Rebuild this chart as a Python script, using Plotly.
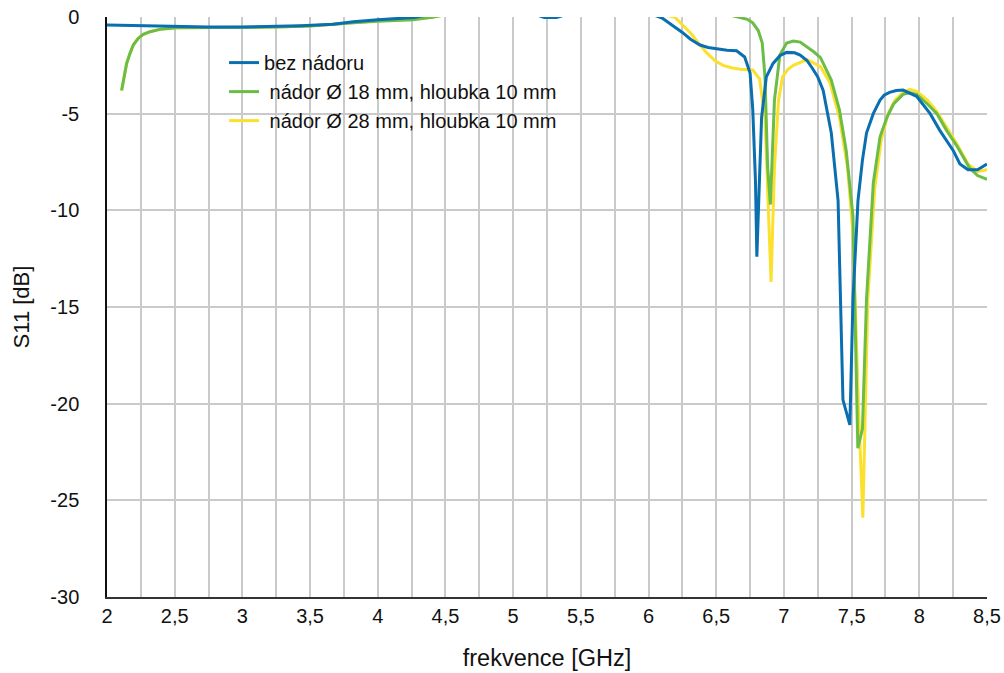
import plotly.graph_objects as go

# ---- data ----
freq_bez = [2.0, 2.25, 2.5, 2.75, 3.0, 3.25, 3.43, 3.67, 3.82, 4.0, 4.15, 4.27, 4.5, 4.8, 5.1, 5.18, 5.21,
            5.23, 5.32, 5.34, 5.38, 5.5, 5.8, 6.0, 6.1, 6.18, 6.25, 6.31, 6.38, 6.44, 6.5, 6.58, 6.65,
            6.71, 6.75, 6.77, 6.79, 6.80, 6.835, 6.87, 6.92, 6.97, 7.02, 7.08, 7.12, 7.17, 7.21, 7.25,
            7.29, 7.35, 7.40, 7.436, 7.487, 7.51, 7.547, 7.58, 7.61, 7.66, 7.71, 7.74, 7.78, 7.83,
            7.88, 7.98, 8.08, 8.15, 8.25, 8.30, 8.36, 8.43, 8.5]
s11_bez = [-0.42, -0.46, -0.5, -0.52, -0.52, -0.5, -0.45, -0.38, -0.25, -0.14, -0.07, -0.02, 0.3, 0.4, 0.3, 0.1, 0.0,
           -0.03, -0.03, 0.0, 0.1, 0.3, 0.4, 0.2, -0.05, -0.45, -0.8, -1.15, -1.45, -1.58, -1.65, -1.72, -1.75,
           -2.07, -2.9, -4.8, -8.5, -12.4, -5.2, -3.1, -2.4, -2.0, -1.83, -1.85, -1.97, -2.25, -2.65, -3.1,
           -3.8, -6.0, -9.5, -19.8, -21.1, -14.6, -9.5, -7.4, -6.0, -5.0, -4.3, -4.05, -3.9, -3.8,
           -3.78, -4.1, -5.0, -5.85, -6.9, -7.6, -7.9, -7.9, -7.6]

freq_18 = [2.108, 2.126, 2.145, 2.17, 2.194, 2.231, 2.268, 2.318, 2.39, 2.515, 2.75, 3.0, 3.25, 3.5, 3.67,
           3.82, 4.0, 4.26, 4.40, 4.7, 5.5,
           6.3, 6.6, 6.69, 6.73, 6.77, 6.81, 6.84, 6.86, 6.88, 6.90, 6.93, 6.97, 7.02, 7.07, 7.12, 7.17,
           7.22, 7.27, 7.35, 7.41, 7.46, 7.51, 7.546, 7.58, 7.61, 7.66, 7.71, 7.76, 7.81, 7.88, 7.93, 7.98,
           8.06, 8.13, 8.20, 8.28, 8.37, 8.43, 8.5]
s11_18 = [-3.8, -3.09, -2.4, -1.88, -1.45, -1.1, -0.9, -0.76, -0.64, -0.56, -0.55, -0.54, -0.52, -0.47, -0.4,
          -0.3, -0.22, -0.14, -0.02, 0.4, 0.6,
          0.4, 0.1, -0.03, -0.12, -0.3, -0.7, -1.35, -3.1, -7.8, -9.7, -4.3, -1.97, -1.35, -1.24, -1.3, -1.55,
          -1.8, -2.1, -3.26, -4.8, -6.9, -10.3, -22.3, -21.3, -14.6, -8.6, -6.2, -5.2, -4.5, -4.0, -3.92, -4.0,
          -4.5, -5.0, -5.85, -6.7, -7.8, -8.2, -8.4]

freq_28 = [2.108, 2.126, 2.145, 2.17, 2.194, 2.231, 2.268, 2.318, 2.39, 2.515, 2.75, 3.0, 3.25, 3.5, 3.67,
           3.82, 4.0, 4.26, 4.40, 4.7, 5.5,
           6.0, 6.195, 6.25, 6.31, 6.37, 6.43, 6.49, 6.55, 6.62, 6.68, 6.77, 6.82, 6.86, 6.88, 6.905, 6.93,
           6.96, 6.99, 7.03, 7.07, 7.17, 7.27, 7.34, 7.41, 7.47, 7.51, 7.55, 7.583, 7.62, 7.67, 7.72, 7.77,
           7.82, 7.88, 7.93, 7.98, 8.06, 8.13, 8.20, 8.28, 8.36, 8.43, 8.5]
s11_28 = [-3.8, -3.09, -2.4, -1.88, -1.45, -1.1, -0.9, -0.76, -0.64, -0.56, -0.55, -0.54, -0.52, -0.46, -0.38,
          -0.28, -0.2, -0.12, -0.02, 0.4, 0.6,
          0.3, -0.02, -0.4, -0.83, -1.35, -1.86, -2.25, -2.5, -2.64, -2.7, -2.74, -3.2, -5.2, -9.5, -13.7, -7.8,
          -4.3, -3.1, -2.7, -2.5, -2.2, -2.57, -3.4, -5.2, -7.8, -11.2, -20.0, -25.9, -14.6, -8.9, -6.3, -5.0,
          -4.3, -3.9, -3.74, -3.85, -4.3, -4.9, -5.7, -6.6, -7.6, -8.0, -7.9]

series_names = ["bez nádoru", " nádor Ø 18 mm, hloubka 10 mm", " nádor Ø 28 mm, hloubka 10 mm"]
series_colors = ["#0a6faf", "#6cbd45", "#fbe02e"]

x_tickvals = [2, 2.5, 3, 3.5, 4, 4.5, 5, 5.5, 6, 6.5, 7, 7.5, 8, 8.5]
x_ticktext = ["2", "2,5", "3", "3,5", "4", "4,5", "5", "5,5", "6", "6,5", "7", "7,5", "8", "8,5"]
y_tickvals = [0, -5, -10, -15, -20, -25, -30]
y_ticktext = ["0", "-5", "-10", "-15", "-20", "-25", "-30"]

FONT = "Liberation Sans, Arial, Helvetica, sans-serif"
GRID = "#cacaca"

fig = go.Figure()
# drawn bottom-to-top: yellow, green, blue
for fx, fy, name, col in [(freq_28, s11_28, series_names[2], series_colors[2]),
                          (freq_18, s11_18, series_names[1], series_colors[1]),
                          (freq_bez, s11_bez, series_names[0], series_colors[0])]:
    fig.add_trace(go.Scatter(x=fx, y=fy, mode="lines", name=name,
                             line=dict(color=col, width=3)))

fig.update_layout(
    width=1004, height=673,
    margin=dict(l=107, r=17, t=17, b=76, autoexpand=False),
    paper_bgcolor="white", plot_bgcolor="white",
    font=dict(family=FONT, size=20, color="#111111"),
    showlegend=True,
    legend=dict(x=0.133, y=0.955, xanchor="left", yanchor="top",
                bgcolor="rgba(0,0,0,0)", traceorder="reversed",
                font=dict(size=20), tracegroupgap=0),
    shapes=[dict(type="rect", xref="paper", yref="paper",
                 x0=0.058, x1=0.626, y0=0.8086, y1=0.95,
                 fillcolor="white", line=dict(width=0), layer="between")],
)

fig.update_xaxes(
    range=[2, 8.5], tickmode="array", tickvals=x_tickvals, ticktext=x_ticktext,
    showgrid=True, gridcolor=GRID, gridwidth=1.5,
    minor=dict(tickmode="linear", tick0=2, dtick=0.25, showgrid=True, gridcolor=GRID, gridwidth=1.5),
    showline=True, linecolor="#333333", linewidth=1.5, zeroline=False,
    ticks="", ticklabelstandoff=0, automargin=False, tickfont=dict(size=20),
    title=dict(text="frekvence [GHz]", standoff=24, font=dict(size=23.5)),
)
fig.update_yaxes(
    range=[-30, 0], tickmode="array", tickvals=y_tickvals, ticktext=y_ticktext,
    showgrid=True, gridcolor=GRID, gridwidth=1.5,
    showline=True, linecolor="#111111", linewidth=1.5, zeroline=False,
    ticks="", ticklabelstandoff=22, automargin=False, tickfont=dict(size=20),
    title=dict(text="S11 [dB]", standoff=15, font=dict(size=22)),
)

fig.write_html("out.html", config={"displayModeBar": False},
               post_script="document.body.style.margin='0';document.body.style.padding='0';")
